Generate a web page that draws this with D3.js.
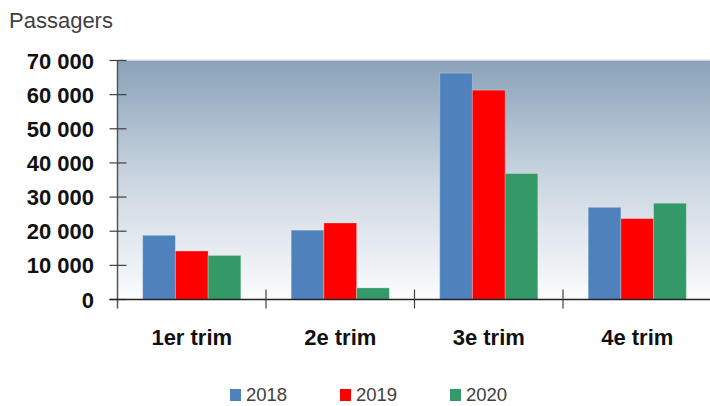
<!DOCTYPE html>
<html><head><meta charset="utf-8">
<script src="https://cdn.jsdelivr.net/npm/d3@7/dist/d3.min.js"></script>
<style>body{margin:0;background:#fff;} svg{display:block;}</style>
</head><body>
<svg id="c" width="710" height="406"></svg>
<script>
const categories = ["1er trim", "2e trim", "3e trim", "4e trim"];
const seriesNames = ["2018", "2019", "2020"];
const values2018 = [18800, 20300, 66300, 27000];
const values2019 = [14200, 22400, 61300, 23700];
const values2020 = [12900, 3400, 36900, 28200];
const yTicks = [0, 10000, 20000, 30000, 40000, 50000, 60000, 70000];
const colors = ["#4f81bd", "#ff0000", "#339966"];

(function(){
const series = [values2018, values2019, values2020];
const svg = d3.select("#c");
const pLeft = 117.5, pRight = 711.5, pTop = 60.5, pBottom = 299.5;

const defs = svg.append("defs");
const grad = defs.append("linearGradient").attr("id","bg").attr("x1",0).attr("y1",0).attr("x2",0).attr("y2",1);
grad.append("stop").attr("offset","0").attr("stop-color","#8aa2b9");
grad.append("stop").attr("offset","0.5").attr("stop-color","#cbd6e1");
grad.append("stop").attr("offset","1").attr("stop-color","#fbfcfd");

const x = d3.scaleBand().domain(categories).range([pLeft, pRight]).padding(0);
const xi = d3.scaleBand().domain(seriesNames).range([0, x.bandwidth()]).paddingInner(0).paddingOuter(0.77);
const y = d3.scaleLinear().domain([0, 70000]).range([pBottom, pTop]);

svg.append("rect").attr("x", pLeft).attr("y", pTop).attr("width", pRight-pLeft).attr("height", pBottom-pTop).attr("fill","url(#bg)");
svg.append("line").attr("x1",pLeft).attr("x2",pRight).attr("y1",pTop-0.5).attr("y2",pTop-0.5).attr("stroke","#d9d9d9").attr("stroke-width",1);

// Bars
categories.forEach((c, ci) => {
  seriesNames.forEach((s, si) => {
    const v = series[si][ci];
    svg.append("rect")
      .attr("x", x(c) + xi(s))
      .attr("y", y(v))
      .attr("width", xi.bandwidth())
      .attr("height", y(0) - y(v))
      .attr("fill", colors[si])
      .attr("stroke", "rgba(255,255,255,0.25)")
      .attr("stroke-width", 1);
  });
});

const fmt = v => d3.format(",")(v).replace(/,/g, " ");

// Y axis
const yAxis = svg.append("g");
yAxis.append("line").attr("x1",pLeft).attr("x2",pLeft).attr("y1",pTop).attr("y2",pBottom+9).attr("stroke","#555").attr("stroke-width",1.5);
yAxis.selectAll("line.t").data(yTicks).enter().append("line").attr("class","t")
  .attr("x1", pLeft-8).attr("x2", pLeft+9).attr("y1", d=>y(d)).attr("y2", d=>y(d))
  .attr("stroke","#404040").attr("stroke-width",1.2);
yAxis.selectAll("text").data(yTicks).enter().append("text")
  .attr("x", 94).attr("y", d=>y(d)+8)
  .attr("text-anchor","end")
  .attr("font-family","'Liberation Sans', Arial, sans-serif")
  .attr("font-weight","bold").attr("font-size","22px").attr("fill","#111")
  .text(d=>fmt(d));

// X axis
const xAxis = svg.append("g");
xAxis.append("line").attr("x1",pLeft-8).attr("x2",710).attr("y1",pBottom).attr("y2",pBottom).attr("stroke","#222").attr("stroke-width",1.5);
xAxis.selectAll("line.t").data(categories.slice(1)).enter().append("line").attr("class","t")
  .attr("x1", d=>x(d)).attr("x2", d=>x(d)).attr("y1", pBottom-10).attr("y2", pBottom+9)
  .attr("stroke","#404040").attr("stroke-width",1.2);
xAxis.selectAll("text").data(categories).enter().append("text")
  .attr("x", d=>x(d)+x.bandwidth()/2).attr("y", 345)
  .attr("text-anchor","middle")
  .attr("font-family","'Liberation Sans', Arial, sans-serif")
  .attr("font-weight","bold").attr("font-size","22px").attr("fill","#111")
  .text(d=>d);

// Title
svg.append("text").attr("x", 9).attr("y", 28)
  .attr("font-family","'Liberation Sans', Arial, sans-serif")
  .attr("font-size","22px").attr("fill","#404040").text("Passagers");

// Legend
const lg = svg.append("g");
seriesNames.forEach((s, i) => {
  const lx = 230 + i*110;
  lg.append("rect").attr("x", lx).attr("y", 389).attr("width", 11).attr("height", 12).attr("fill", colors[i]);
  lg.append("text").attr("x", lx+16).attr("y", 401)
    .attr("font-family","'Liberation Sans', Arial, sans-serif")
    .attr("font-size","18.5px").attr("fill","#404040").text(s);
});
})();
</script>
</body></html>
